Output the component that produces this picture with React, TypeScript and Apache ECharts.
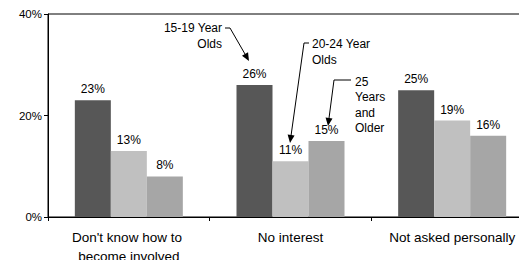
import React, { useEffect, useRef } from "react";
import * as echarts from "echarts";

const categories = ["Don't know how to become involved", "No interest", "Not asked personally"];
const seriesNames = ["15-19 Year Olds", "20-24 Year Olds", "25 Years and Older"];
const ages15to19 = [23, 26, 25];
const ages20to24 = [13, 11, 19];
const ages25plus = [8, 15, 16];
const yMin = 0;
const yMax = 40;
const yStep = 20;

const FONT = "'Liberation Sans', Arial, sans-serif";
const colors = ["#575757", "#c0c0c0", "#a6a6a6"];

type Pt = [number, number];

function arrow(points: Pt[]) {
  const n = points.length;
  const [x1, y1] = points[n - 2];
  const [x2, y2] = points[n - 1];
  const dx = x2 - x1;
  const dy = y2 - y1;
  const len = Math.sqrt(dx * dx + dy * dy);
  const ux = dx / len;
  const uy = dy / len;
  const hl = 8;
  const hw = 3.5;
  const bx = x2 - ux * hl;
  const by = y2 - uy * hl;
  const shaft = points.slice(0, n - 1).concat([[bx + ux * 1, by + uy * 1] as Pt]);
  return [
    {
      type: "polyline",
      shape: { points: shaft },
      style: { stroke: "#000", lineWidth: 1, fill: null },
      silent: true,
    },
    {
      type: "polygon",
      shape: {
        points: [
          [x2, y2],
          [bx - uy * hw, by + ux * hw],
          [bx + uy * hw, by - ux * hw],
        ],
      },
      style: { fill: "#000" },
      silent: true,
    },
  ];
}

export default function App() {
  const ref = useRef<HTMLDivElement>(null);
  useEffect(() => {
    if (!ref.current) return;
    const chart = echarts.init(ref.current, null, { renderer: "svg" });
    const data = [ages15to19, ages20to24, ages25plus];
    const annText = (text: string, x: number, y: number, align: string, lh: number) => ({
      type: "text",
      x,
      y,
      silent: true,
      style: {
        text,
        x: 0,
        y: 0,
        align,
        verticalAlign: "top",
        fontSize: 12,
        lineHeight: lh,
        fontFamily: FONT,
        fill: "#000",
      },
    });
    chart.setOption({
      animation: false,
      grid: {
        left: 48,
        top: 14,
        right: -14,
        bottom: 43,
        outerBoundsMode: "none",
        containLabel: false,
        show: true,
        borderColor: "#000",
        borderWidth: 1,
        backgroundColor: "transparent",
      },
      xAxis: {
        type: "category",
        data: categories,
        axisLine: { lineStyle: { color: "#000", width: 1 } },
        axisTick: { show: true, length: 4, lineStyle: { color: "#000" } },
        axisLabel: {
          interval: 0,
          color: "#000",
          fontSize: 13.5,
          fontFamily: FONT,
          width: 140,
          overflow: "break",
          lineHeight: 19,
          margin: 11,
        },
      },
      yAxis: {
        type: "value",
        min: yMin,
        max: yMax,
        interval: yStep,
        axisLine: { show: true, lineStyle: { color: "#000", width: 1 } },
        axisTick: { show: true, length: 4, lineStyle: { color: "#000" } },
        splitLine: { show: false },
        axisLabel: {
          formatter: "{value}%",
          color: "#000",
          fontSize: 11.5,
          fontFamily: FONT,
          margin: 6,
        },
      },
      series: data.map((d, i) => ({
        name: seriesNames[i],
        type: "bar",
        data: d,
        barWidth: 36,
        barGap: "0%",
        itemStyle: { color: colors[i] },
        label: {
          show: true,
          position: "top",
          distance: 5,
          formatter: "{c}%",
          color: "#000",
          fontSize: 12,
          fontFamily: FONT,
        },
      })),
      graphic: [
        annText("15-19 Year\nOlds", 222, 20, "right", 16),
        ...arrow([[225, 28], [230, 28], [249, 61]]),
        annText("20-24 Year\nOlds", 312, 36, "left", 16),
        ...arrow([[309, 43], [304, 43], [290, 143]]),
        annText("25\nYears\nand\nOlder", 355, 74, "left", 15.5),
        ...arrow([[351, 80], [334, 80], [328, 126]]),
      ],
    });
    return () => chart.dispose();
  }, []);
  return (
    <div
      ref={ref}
      style={{ position: "fixed", left: 0, top: 0, width: 519, height: 260, background: "#fff" }}
    />
  );
}
